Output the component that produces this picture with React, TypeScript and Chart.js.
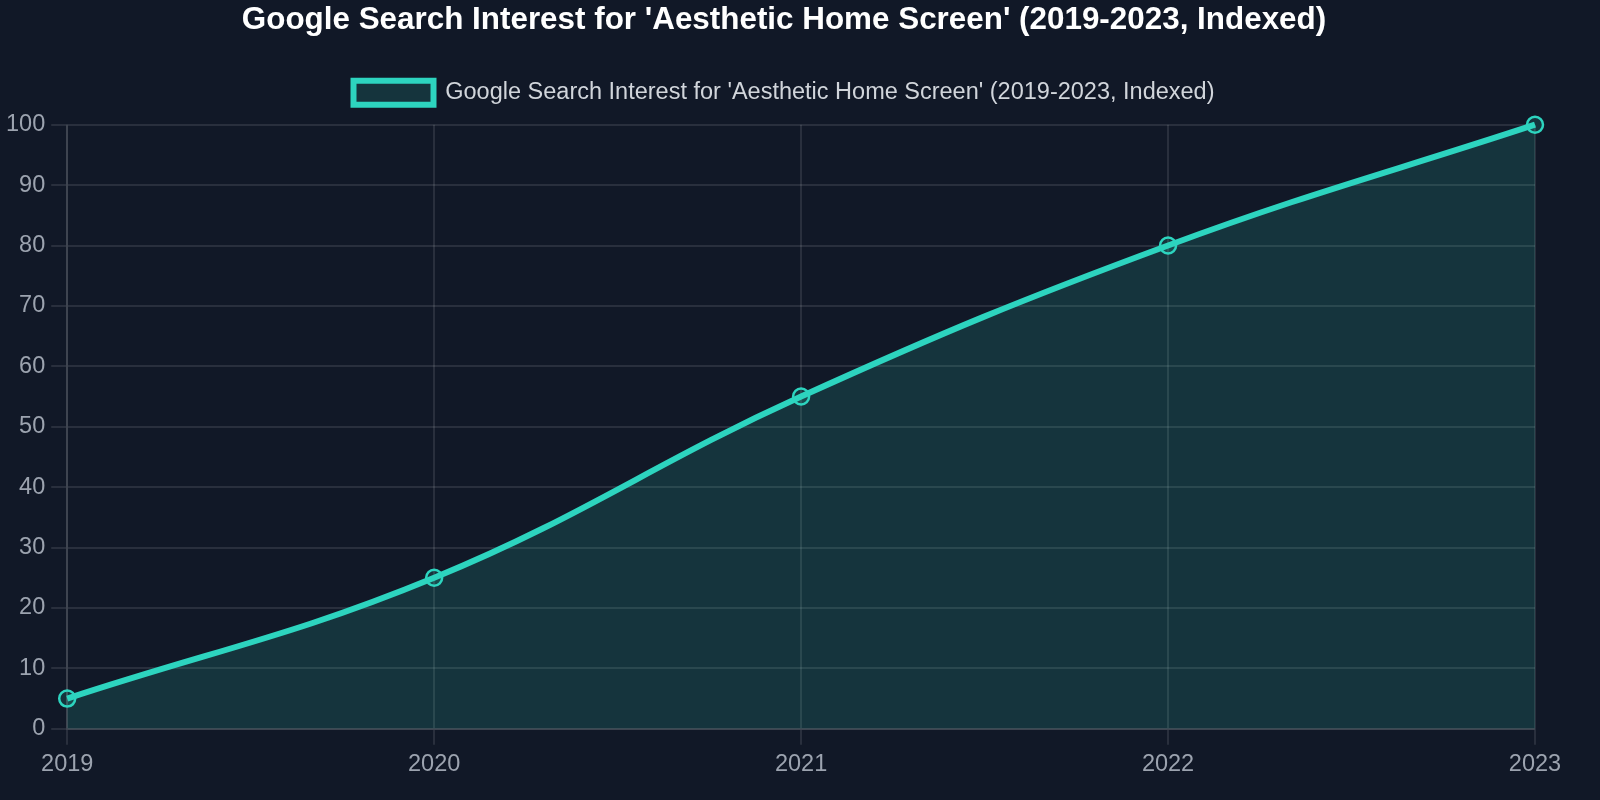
import React, { useEffect, useRef } from "react";
import { Chart, registerables } from "chart.js";

Chart.register(...registerables);

const years = ["2019", "2020", "2021", "2022", "2023"];
const interest = [5, 25, 55, 80, 100];
const seriesLabel = "Google Search Interest for 'Aesthetic Home Screen' (2019-2023, Indexed)";
const titleText = "Google Search Interest for 'Aesthetic Home Screen' (2019-2023, Indexed)";

const legendGap = {
  id: "legendGap",
  beforeInit(chart: any) {
    const legend = chart.legend;
    if (!legend) return;
    const origFit = legend.fit;
    legend.fit = function () {
      origFit.call(this);
      this.height += 10;
    };
  },
};

const FONT = "'Liberation Sans', Arial, sans-serif";

export default function App() {
  const ref = useRef<HTMLCanvasElement | null>(null);

  useEffect(() => {
    document.body.style.margin = "0";
    document.body.style.background = "#111827";
    const chart = new Chart(ref.current!, {
      type: "line",
      data: {
        labels: years,
        datasets: [
          {
            label: seriesLabel,
            data: interest,
            borderColor: "#2dd4bf",
            backgroundColor: "rgba(45,212,191,0.15)",
            borderWidth: 6,
            fill: true,
            tension: 0.4,
            clip: false,
            pointRadius: 8,
            pointBorderWidth: 2.5,
            pointBorderColor: "#2dd4bf",
            pointBackgroundColor: "rgba(45,212,191,0.15)",
          },
        ],
      },
      options: {
        animation: false,
        responsive: false,
        devicePixelRatio: 1,
        layout: { padding: { top: 0, left: 0, right: 32, bottom: 15 } },
        plugins: {
          title: {
            display: true,
            text: titleText,
            color: "#ffffff",
            font: { family: FONT, size: 31.4, weight: "bold" },
            padding: { top: 2, bottom: 21 },
          },
          legend: {
            labels: {
              color: "#d1d5db",
              font: { family: FONT, size: 23.5 },
              boxWidth: 80,
              boxHeight: 24,
              padding: 20,
            },
          },
          tooltip: { enabled: false },
        },
        scales: {
          x: {
            afterFit(scale: any) {
              scale.paddingRight = 65;
            },
            grid: { color: "rgba(255,255,255,0.1)", lineWidth: 2, tickLength: 16 },
            border: { color: "rgba(255,255,255,0.1)", width: 2 },
            ticks: {
              color: "#9ca3af",
              font: { family: FONT, size: 23.5 },
              padding: 6,
              maxRotation: 0,
            },
          },
          y: {
            min: 0,
            max: 100,
            grid: { color: "rgba(255,255,255,0.1)", lineWidth: 2, tickLength: 16 },
            border: { color: "rgba(255,255,255,0.1)", width: 2 },
            ticks: {
              stepSize: 10,
              color: "#9ca3af",
              font: { family: FONT, size: 23.5 },
              padding: 6,
            },
          },
        },
      },
      plugins: [legendGap],
    });
    return () => chart.destroy();
  }, []);

  return (
    <div style={{ width: 1600, height: 800, background: "#111827" }}>
      <canvas ref={ref} width={1600} height={800} style={{ display: "block" }} />
    </div>
  );
}
